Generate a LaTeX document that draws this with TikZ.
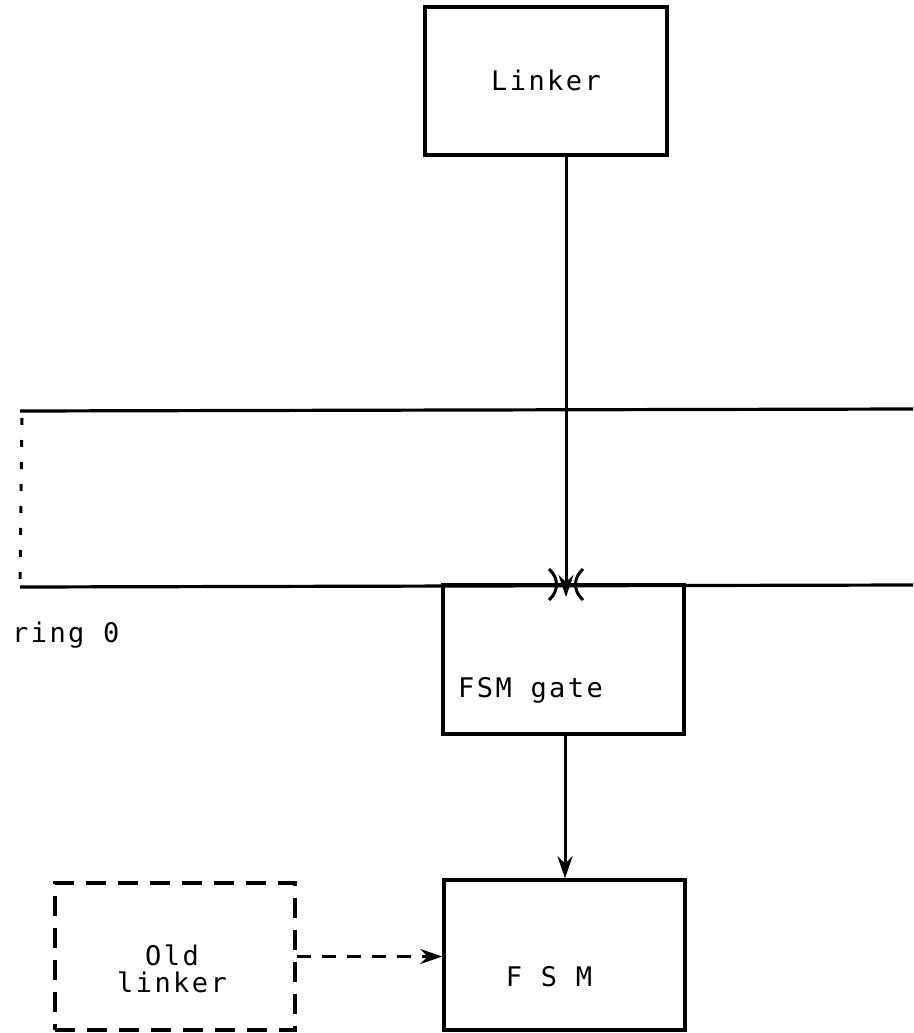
\documentclass[tikz,border=0pt]{standalone}
\usepackage{fontspec}
\newfontfamily\tw[LetterSpace=9]{DejaVu Sans Mono}
\usetikzlibrary{arrows.meta}
\begin{document}
\begin{tikzpicture}[x=1pt,y=-1pt,
  box/.style={draw,line width=3.4pt,minimum width=#1,inner sep=0pt},
  lbl/.style={font=\tw\fontsize{27}{31}\selectfont,inner sep=0pt,align=center},
  arr/.style={line width=3pt,-{Stealth[length=22pt,width=15pt]}},
  ring/.style={line width=3.2pt}]
\useasboundingbox (0,0) rectangle (913,1033);
% boxes
\node[box=242pt,minimum height=148pt] (linker) at (546,81) {};
\node[lbl] (linkerlbl) at (546,80) {Linker};
\node[box=241pt,minimum height=149pt] (gate) at (563.5,659.5) {};
\node[lbl,anchor=west] (gatelbl) at (458,690) {FSM gate};
\node[box=241pt,minimum height=150pt] (fsm) at (564.5,955) {};
\node[lbl] (fsmlbl) at (549,977) {F S M};
\node[box=240pt,minimum height=147pt,dash pattern=on 20pt off 12pt] (old) at (175,956.5) {};
\node[lbl] (oldlbl) at (172,969) {Old\\[-4pt]linker};
% ring 0 band
\coordinate (rtl) at (20,411);
\coordinate (rtr) at (913,409);
\coordinate (rbl) at (20,587);
\coordinate (rbr) at (913,585);
\draw[ring] (rtl) -- (rtr);
\draw[ring] (rbl) -- (rbr);
\draw[line width=3pt,dash pattern=on 7pt off 15pt] (22,418) -- (rbl);
\node[lbl,anchor=west] (ring) at (12,635) {ring 0};
% arrows
\coordinate (gin) at (566,597);
\draw[arr] (linker.south -| gin) -- (gin);
\draw[line width=3pt] (549,569) .. controls (559,578) and (559,591) .. (549,600);
\draw[line width=3pt] (583,569) .. controls (573,578) and (573,591) .. (583,600);
\draw[arr] (gate.south -| 565,0) -- (fsm.north -| 565,0);
\draw[arr,dash pattern=on 14pt off 11pt] (old.east) -- (old.east -| fsm.west);
\end{tikzpicture}
\end{document}
